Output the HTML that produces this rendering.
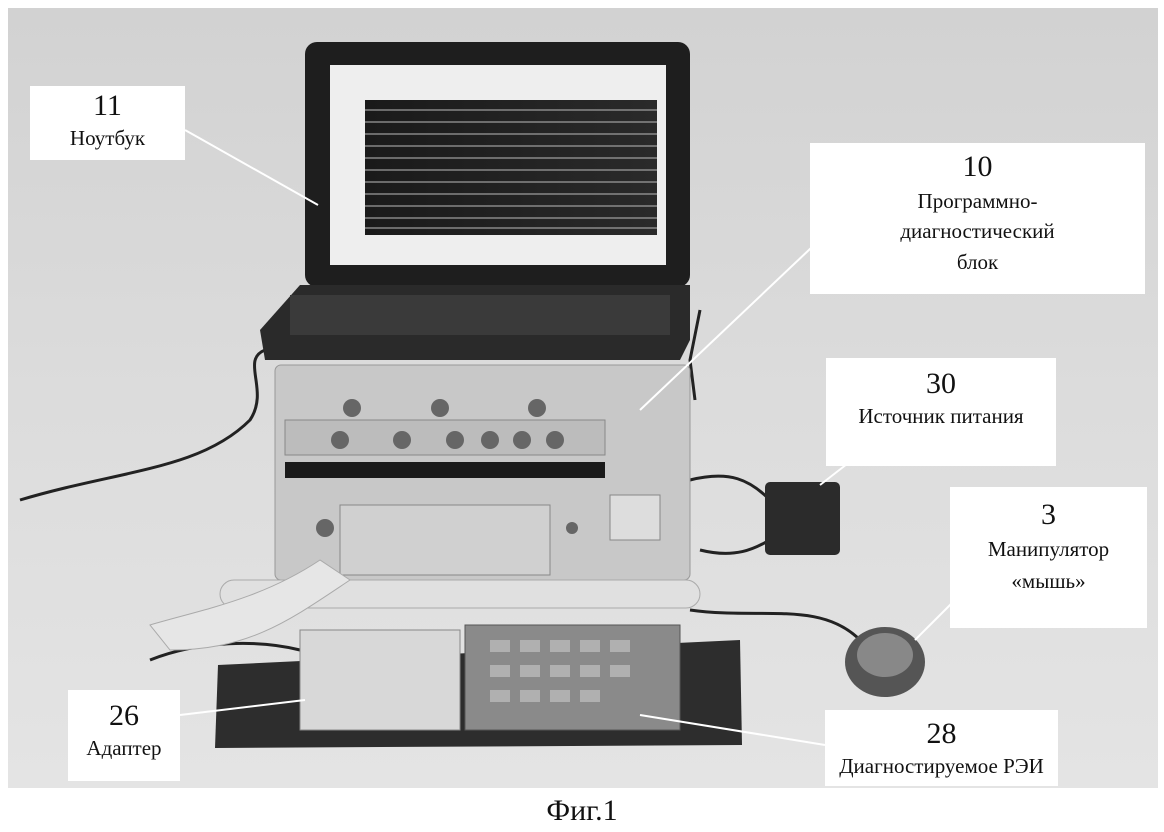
<!DOCTYPE html>
<html><head><meta charset="utf-8"><style>
body{margin:0;width:1164px;height:832px;overflow:hidden;background:#fff;font-family:"Liberation Serif",serif}
.lbl{position:absolute;background:#fff;text-align:center;color:#111;line-height:1.25}
.n{font-size:30px;line-height:1.3}
.t{font-size:21px}
</style></head><body>
<svg width="1164" height="832" style="position:absolute;left:0;top:0">
<defs>
<linearGradient id="bg" x1="0" y1="0" x2="0" y2="1"><stop offset="0" stop-color="#d2d2d2"/><stop offset="0.5" stop-color="#dcdcdc"/><stop offset="1" stop-color="#e4e4e4"/></linearGradient>
<linearGradient id="scr" x1="0" y1="0" x2="1" y2="0"><stop offset="0" stop-color="#1a1a1a"/><stop offset="1" stop-color="#2a2a2a"/></linearGradient>
</defs>
<rect x="8" y="8" width="1150" height="780" fill="url(#bg)"/>
<path d="M20 500 C120 470 200 470 250 420 C270 390 240 360 265 350" stroke="#222" stroke-width="3" fill="none"/>
<path d="M700 310 L690 360 L695 400" stroke="#222" stroke-width="3" fill="none"/>
<path d="M690 480 C730 470 750 480 770 500" stroke="#222" stroke-width="3" fill="none"/>
<path d="M700 550 C740 560 760 545 770 540" stroke="#222" stroke-width="3" fill="none"/>
<path d="M690 610 C760 620 820 600 860 640" stroke="#222" stroke-width="3" fill="none"/>
<path d="M150 660 C200 640 260 640 300 650" stroke="#222" stroke-width="3" fill="none"/>
<rect x="305" y="42" width="385" height="245" rx="12" fill="#1e1e1e"/>
<rect x="330" y="65" width="336" height="200" fill="#eee"/>
<rect x="365" y="100" width="292" height="135" fill="url(#scr)"/>
<g stroke="#bbb" stroke-width="1">
<line x1="365" y1="110" x2="657" y2="110"/><line x1="365" y1="122" x2="657" y2="122"/><line x1="365" y1="134" x2="657" y2="134"/><line x1="365" y1="146" x2="657" y2="146"/><line x1="365" y1="158" x2="657" y2="158"/><line x1="365" y1="170" x2="657" y2="170"/><line x1="365" y1="182" x2="657" y2="182"/><line x1="365" y1="194" x2="657" y2="194"/><line x1="365" y1="206" x2="657" y2="206"/><line x1="365" y1="218" x2="657" y2="218"/><line x1="365" y1="228" x2="657" y2="228"/>
</g>
<path d="M260 330 L300 285 L690 285 L690 340 L680 360 L265 360 Z" fill="#2a2a2a"/>
<rect x="290" y="295" width="380" height="40" fill="#3a3a3a"/>
<rect x="275" y="365" width="415" height="215" rx="6" fill="#c8c8c8" stroke="#999"/>
<rect x="285" y="420" width="320" height="35" fill="#bcbcbc" stroke="#888"/>
<rect x="285" y="462" width="320" height="16" fill="#1a1a1a"/>
<g fill="#666"><circle cx="352" cy="408" r="9"/><circle cx="440" cy="408" r="9"/><circle cx="537" cy="408" r="9"/><circle cx="340" cy="440" r="9"/><circle cx="402" cy="440" r="9"/><circle cx="455" cy="440" r="9"/><circle cx="490" cy="440" r="9"/><circle cx="522" cy="440" r="9"/><circle cx="555" cy="440" r="9"/><circle cx="325" cy="528" r="9"/><circle cx="572" cy="528" r="6"/></g>
<rect x="340" y="505" width="210" height="70" fill="#d0d0d0" stroke="#888"/>
<rect x="610" y="495" width="50" height="45" fill="#ddd" stroke="#888"/>
<rect x="220" y="580" width="480" height="28" rx="14" fill="#e0e0e0" stroke="#aaa"/>
<path d="M150 625 C200 610 260 600 320 560 L350 580 C290 620 250 650 170 650 Z" fill="#e6e6e6" stroke="#aaa"/>
<rect x="765" y="482" width="75" height="73" rx="5" fill="#2b2b2b"/>
<ellipse cx="885" cy="662" rx="40" ry="35" fill="#555"/>
<ellipse cx="885" cy="655" rx="28" ry="22" fill="#888"/>
<path d="M218 665 L740 640 L742 745 L215 748 Z" fill="#2d2d2d"/>
<rect x="300" y="630" width="160" height="100" fill="#d8d8d8" stroke="#888"/>
<rect x="465" y="625" width="215" height="105" fill="#8a8a8a" stroke="#555"/>
<g fill="#b0b0b0"><rect x="490" y="640" width="20" height="12"/><rect x="520" y="640" width="20" height="12"/><rect x="550" y="640" width="20" height="12"/><rect x="580" y="640" width="20" height="12"/><rect x="610" y="640" width="20" height="12"/><rect x="490" y="665" width="20" height="12"/><rect x="520" y="665" width="20" height="12"/><rect x="550" y="665" width="20" height="12"/><rect x="580" y="665" width="20" height="12"/><rect x="610" y="665" width="20" height="12"/><rect x="490" y="690" width="20" height="12"/><rect x="520" y="690" width="20" height="12"/><rect x="550" y="690" width="20" height="12"/><rect x="580" y="690" width="20" height="12"/></g>
<g stroke="#fff" stroke-width="2">
<line x1="185" y1="130" x2="318" y2="205"/>
<line x1="830" y1="230" x2="640" y2="410"/>
<line x1="865" y1="450" x2="820" y2="485"/>
<line x1="955" y1="600" x2="915" y2="640"/>
<line x1="180" y1="715" x2="305" y2="700"/>
<line x1="825" y1="745" x2="640" y2="715"/>
</g>
</svg>
<div class="lbl" style="left:30px;top:86px;width:155px;height:74px"><div class="n">11</div><div class="t">Ноутбук</div></div>
<div class="lbl" style="left:810px;top:143px;width:335px;height:147px;padding-top:4px"><div class="n">10</div><div class="t" style="line-height:1.45">Программно-<br>диагностический<br>блок</div></div>
<div class="lbl" style="left:826px;top:358px;width:230px;height:102px;padding-top:6px"><div class="n">30</div><div class="t">Источник питания</div></div>
<div class="lbl" style="left:950px;top:487px;width:197px;height:133px;padding-top:8px"><div class="n">3</div><div class="t" style="line-height:1.5">Манипулятор<br>«мышь»</div></div>
<div class="lbl" style="left:68px;top:690px;width:112px;height:85px;padding-top:6px"><div class="n">26</div><div class="t">Адаптер</div></div>
<div class="lbl" style="left:825px;top:710px;width:233px;height:72px;padding-top:4px"><div class="n">28</div><div class="t">Диагностируемое РЭИ</div></div>
<div style="position:absolute;left:0;width:1164px;top:794px;text-align:center;font-size:30px;color:#111">Фиг.1</div>
</body></html>
